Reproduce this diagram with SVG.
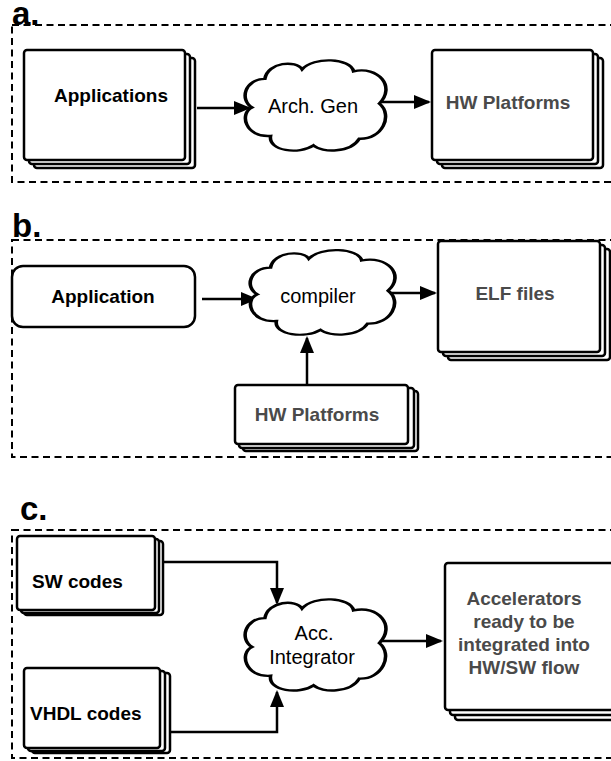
<svg xmlns="http://www.w3.org/2000/svg" width="611" height="761" viewBox="0 0 611 761">
<style>
.frame{fill:none;stroke:#000;stroke-width:2;stroke-dasharray:7,4.5}
.box{fill:#fff;stroke:#000;stroke-width:2.5}
.cloud{fill:#fff;stroke:#000;stroke-width:2.5}
.conn{fill:none;stroke:#000;stroke-width:2.5}
.lbl{font-family:"Liberation Sans",Arial,sans-serif;font-weight:bold;font-size:33px;fill:#000}
.bt{font-family:"Liberation Sans",Arial,sans-serif;font-weight:bold;font-size:19px;fill:#000;text-anchor:middle}
.gt{font-family:"Liberation Sans",Arial,sans-serif;font-weight:bold;font-size:19px;fill:#4a4a4a;text-anchor:middle}
.ct{font-family:"Liberation Sans",Arial,sans-serif;font-size:20px;fill:#000;text-anchor:middle}
</style>
<defs>
<marker id="ah" markerWidth="18" markerHeight="14" refX="15" refY="7" orient="auto" markerUnits="userSpaceOnUse">
<path d="M0,0 L17,7 L0,14 Z" fill="#000"/>
</marker>
<path id="cloudp" d="M7,52 C-2,44 2,22 16,22 C18,4 38,2 42,12 C50,-2 76,0 78,14 C95,8 108,30 96,48 C106,60 98,86 82,85 C76,100 56,100 50,92 C40,102 18,98 20,82 C2,84 -2,58 7,52 Z"/>
</defs>

<g id="panel-a">
<text class="lbl" x="12" y="25">a.</text>
<rect class="frame" x="12" y="25" width="612" height="157"/>
</g>
<g id="panel-b">
<text class="lbl" x="12" y="237">b.</text>
<rect class="frame" x="12" y="240" width="612" height="217"/>
</g>
<g id="panel-c">
<text class="lbl" x="20" y="520">c.</text>
<rect class="frame" x="12" y="530" width="612" height="228"/>
</g>

<g id="connectors">
<path class="conn" d="M197,108 H249" marker-end="url(#ah)"/>
<path class="conn" d="M379,102 H429" marker-end="url(#ah)"/>
<path class="conn" d="M202,299 H256" marker-end="url(#ah)"/>
<path class="conn" d="M387,293 H435" marker-end="url(#ah)"/>
<path class="conn" d="M307,385 V338" marker-end="url(#ah)"/>
<path class="conn" d="M155,562 H277 V603" marker-end="url(#ah)"/>
<path class="conn" d="M170,732 H277 V692" marker-end="url(#ah)"/>
<path class="conn" d="M379,641 H441" marker-end="url(#ah)"/>
</g>

<g id="applications">
<rect class="box" x="34" y="58" width="161" height="110" rx="3"/>
<rect class="box" x="29" y="54" width="161" height="110" rx="3"/>
<rect class="box" x="24" y="50" width="161" height="110" rx="3"/>
<text class="bt" x="111" y="102">Applications</text>
</g>

<g id="arch-gen">
<use href="#cloudp" class="cloud" transform="translate(242,58) scale(1.43,0.95)" style="vector-effect:non-scaling-stroke"/>
<text class="ct" x="313" y="113">Arch. Gen</text>
</g>

<g id="hw-platforms-a">
<rect class="box" x="442" y="58" width="161" height="110" rx="3"/>
<rect class="box" x="437" y="54" width="161" height="110" rx="3"/>
<rect class="box" x="432" y="50" width="161" height="110" rx="3"/>
<text class="gt" x="508" y="109">HW Platforms</text>
</g>

<g id="application">
<rect class="box" x="12" y="266" width="183" height="61" rx="11"/>
<text class="bt" x="103" y="303">Application</text>
</g>

<g id="compiler">
<use href="#cloudp" class="cloud" transform="translate(247,248) scale(1.47,0.89)" style="vector-effect:non-scaling-stroke"/>
<text class="ct" x="318" y="303">compiler</text>
</g>

<g id="elf-files">
<rect class="box" x="448" y="249" width="162" height="111" rx="3"/>
<rect class="box" x="443" y="245" width="162" height="111" rx="3"/>
<rect class="box" x="438" y="241" width="162" height="111" rx="3"/>
<text class="gt" x="515" y="300">ELF files</text>
</g>

<g id="hw-platforms-b">
<rect class="box" x="243" y="391" width="175" height="60" rx="3"/>
<rect class="box" x="239" y="388" width="175" height="60" rx="3"/>
<rect class="box" x="235" y="385" width="173" height="59" rx="3"/>
<text class="gt" x="317" y="421">HW Platforms</text>
</g>

<g id="sw-codes">
<rect class="box" x="24" y="541" width="139" height="74" rx="3"/>
<rect class="box" x="21" y="539" width="138" height="74" rx="3"/>
<rect class="box" x="17" y="536" width="138" height="74" rx="3"/>
<text class="bt" x="32" y="588" style="text-anchor:start">SW codes</text>
</g>

<g id="vhdl-codes">
<rect class="box" x="32" y="673" width="138" height="80" rx="3"/>
<rect class="box" x="28" y="671" width="137" height="80" rx="3"/>
<rect class="box" x="24" y="668" width="136" height="80" rx="3"/>
<text class="bt" x="30" y="720" style="text-anchor:start">VHDL codes</text>
</g>

<g id="acc-integrator">
<use href="#cloudp" class="cloud" transform="translate(242,597) scale(1.43,0.96)" style="vector-effect:non-scaling-stroke"/>
<text class="ct" x="314" y="640">Acc.</text>
<text class="ct" x="312" y="664">Integrator</text>
</g>

<g id="accelerators">
<rect class="box" x="455" y="573" width="170" height="147" rx="3"/>
<rect class="box" x="450" y="568" width="170" height="147" rx="3"/>
<rect class="box" x="445" y="563" width="170" height="147" rx="3"/>
<text class="gt" x="524" y="605">Accelerators</text>
<text class="gt" x="524" y="628">ready to be</text>
<text class="gt" x="524" y="651">integrated into</text>
<text class="gt" x="524" y="674">HW/SW flow</text>
</g>
</svg>
